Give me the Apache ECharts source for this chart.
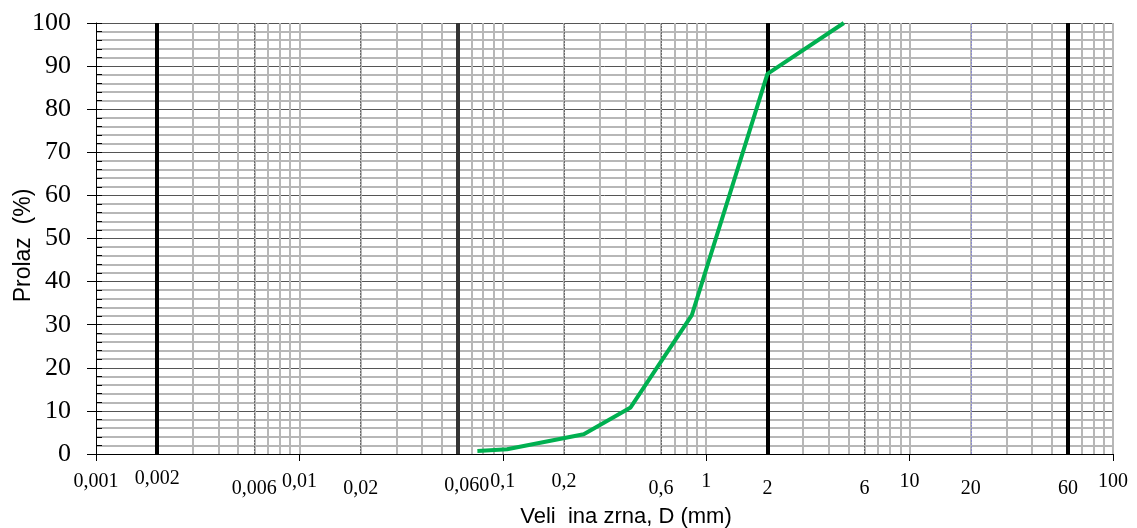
<!DOCTYPE html>
<html><head><meta charset="utf-8">
<script src="https://cdn.jsdelivr.net/npm/echarts@6/dist/echarts.min.js"></script>
<style>html,body{margin:0;padding:0;background:#fff}#c{width:1137px;height:528px}</style>
</head><body><div id="c"></div>
<script>
// ---- data ----
const grainSize = [0.075, 0.105, 0.25, 0.425, 0.85, 2, 4.75];   // mm
const passing   = [0.7, 1.1, 4.6, 10.8, 32.2, 88.2, 100];      // %

// ---- tick labels ----
const upperTicks  = [0.001, 0.01, 0.1, 0.2, 1, 10, 100];
const upperLabels = ['0,001', '0,01', '0,1', '0,2', '1', '10', '100'];
const lowerTicks  = [0.006, 0.02, 0.6, 2, 6, 20, 60];
const lowerLabels = ['0,006', '0,02', '0,6', '2', '6', '20', '60'];
const clayTicks   = [0.002];
const clayLabels  = ['0,002'];
const siltTicks   = [0.06];
const siltLabels  = ['0,060'];
const decadeTicks = [0.001, 0.01, 0.1, 1, 10, 100];

// ---- grid line positions ----
const decades      = [0.001, 0.01, 0.1, 1, 10];
const minorSteps   = [2, 3, 4, 5, 6, 7, 8, 9];
const dottedGrid   = [0.006, 0.02, 0.2, 0.6, 6];
const blueGrid     = [20];
const boundaryDark = [0.06];
const boundaryBlack= [0.002, 2, 60];

const minorPositions = [];
decades.forEach(d => minorSteps.forEach(s => minorPositions.push(+(d * s).toPrecision(6))));
const grayGrid = minorPositions.concat([0.01, 0.1, 1, 10, 100]);

function labelFor(ticks, labels) {
  return v => {
    let best = 0, bd = Infinity;
    ticks.forEach((t, i) => { const d = Math.abs(Math.log10(t) - Math.log10(v)); if (d < bd) { bd = d; best = i; } });
    return labels[best];
  };
}

const serif = 'Liberation Serif';
const sans = 'Liberation Sans';
const tickFont = { fontFamily: serif, fontSize: 20, color: '#000' };

function logAxis(extra) {
  return Object.assign({
    type: 'log', logBase: 10, min: 0.001, max: 100, position: 'bottom', gridIndex: 0,
    axisLine: { show: false, onZero: false },
    axisTick: { show: false },
    axisLabel: { show: false },
    splitLine: { show: false },
    minorTick: { show: false },
    minorSplitLine: { show: false }
  }, extra);
}

const markData = [];
grayGrid.forEach(v => markData.push({ xAxis: v, lineStyle: { color: '#b7b7b7', width: 2, type: 'solid' } }));
dottedGrid.forEach(v => markData.push({ xAxis: v, lineStyle: { color: '#6a6a6a', width: 1, type: [2, 1] } }));
blueGrid.forEach(v => markData.push({ xAxis: v, lineStyle: { color: '#8a8ad0', width: 1, type: [2, 1] } }));
boundaryDark.forEach(v => markData.push({ xAxis: v, lineStyle: { color: '#333', width: 4, type: 'solid' } }));
boundaryBlack.forEach(v => markData.push({ xAxis: v, lineStyle: { color: '#000', width: 4, type: 'solid' } }));

const option = {
  animation: false,
  backgroundColor: '#fff',
  grid: { left: 96, right: 24, top: 23, bottom: 74, containLabel: false, outerBoundsMode: 'none' },
  xAxis: [
    logAxis({
      axisLine: { show: true, onZero: false, lineStyle: { color: '#000', width: 1 } },
      axisTick: { show: true, length: 7, lineStyle: { color: '#000' }, customValues: decadeTicks },
      axisLabel: Object.assign({ show: true, margin: 18, customValues: upperTicks, formatter: labelFor(upperTicks, upperLabels) }, tickFont),
      name: 'Veli  ina zrna, D (mm)',
      nameLocation: 'middle',
      nameGap: 52,
      nameMoveOverlap: false,
      nameTextStyle: { fontFamily: sans, fontSize: 22, color: '#000', padding: [0, 0, 0, 43] }
    }),
    logAxis({
      axisTick: { show: true, inside: true, length: 4, lineStyle: { color: '#333' }, customValues: minorPositions },
      axisLabel: Object.assign({ show: true, margin: 25, customValues: lowerTicks, formatter: labelFor(lowerTicks, lowerLabels) }, tickFont)
    }),
    logAxis({
      axisLabel: Object.assign({ show: true, margin: 15, customValues: clayTicks, formatter: labelFor(clayTicks, clayLabels) }, tickFont)
    }),
    logAxis({
      axisLabel: Object.assign({ show: true, margin: 22, padding: [0, 0, 0, 18], customValues: siltTicks, formatter: labelFor(siltTicks, siltLabels) }, tickFont)
    })
  ],
  yAxis: [
    {
      type: 'value', min: 0, max: 100, interval: 10, position: 'left',
      axisLine: { show: true, lineStyle: { color: '#000', width: 1 } },
      axisTick: { show: true, length: 9, lineStyle: { color: '#000' } },
      axisLabel: { show: true, margin: 25, fontFamily: serif, fontSize: 26, color: '#000' },
      splitLine: { show: true, lineStyle: { color: '#555', width: 1 } },
      minorTick: { show: false, splitNumber: 5 },
      minorSplitLine: { show: true, lineStyle: { color: '#b7b7b7', width: 2 } },
      name: 'Prolaz  (%)',
      nameLocation: 'middle',
      nameGap: 61,
      nameMoveOverlap: false,
      nameTextStyle: { fontFamily: sans, fontSize: 23, color: '#000', padding: [0, 14, 0, 0] }
    },
    {
      type: 'value', min: 0, max: 100, interval: 2, position: 'left', offset: 0,
      axisLine: { show: false },
      axisTick: { show: true, inside: true, length: 6, lineStyle: { color: '#000' } },
      axisLabel: { show: false },
      splitLine: { show: false }
    }
  ],
  series: [
    {
      name: 'grid', type: 'line', xAxisIndex: 0, yAxisIndex: 0, data: [], z: 1, silent: true,
      markLine: { silent: true, precision: 8, symbol: ['none', 'none'], label: { show: false }, animation: false, data: markData }
    },
    {
      name: 'Prolaz', type: 'line', xAxisIndex: 0, yAxisIndex: 0, z: 5,
      data: grainSize.map((x, i) => [x, passing[i]]),
      symbol: 'none', lineStyle: { color: '#00b050', width: 4 }, itemStyle: { color: '#00b050' }
    }
  ]
};

const chart = echarts.init(document.getElementById('c'), null, { renderer: 'canvas' });
chart.setOption(option);
</script>
</body></html>
